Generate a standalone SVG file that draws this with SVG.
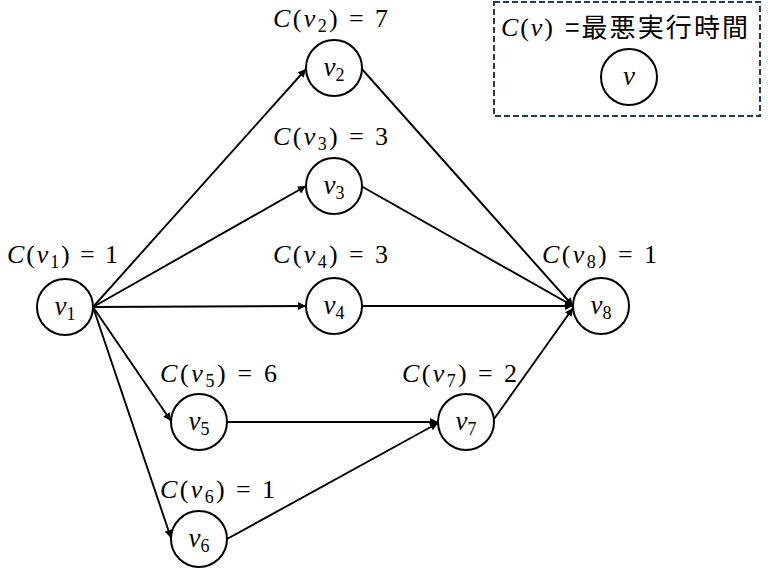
<svg xmlns="http://www.w3.org/2000/svg" width="768" height="568" viewBox="0 0 768 568">
<style>
.node circle{fill:#fff;stroke:#000;stroke-width:2}
text{font-family:"Liberation Serif","DejaVu Serif",serif;font-size:26px;fill:#000}
.i{font-style:italic}
.s{font-size:18px}
.nl{text-anchor:middle;font-size:27px}
.cjk{font-family:"Noto Sans CJK JP","Noto Sans CJK SC",sans-serif;font-size:26px}
#edges line{stroke:#000;stroke-width:1.9;marker-end:url(#ah)}
</style>
<defs>
<marker id="ah" viewBox="0 0 10 10" refX="10" refY="5" markerWidth="10" markerHeight="8" markerUnits="userSpaceOnUse" orient="auto">
<path d="M0,0 L10,5 L0,10 z" fill="#000"/>
</marker>
</defs>
<rect x="494" y="2" width="266" height="114" fill="none" stroke="#203d5a" stroke-width="2" stroke-dasharray="6 3"/>
<g id="legend">
<text x="501" y="36" textLength="52" lengthAdjust="spacing"><tspan class="i">C</tspan>(<tspan class="i">v</tspan>)</text>
<text class="cjk" x="565" y="37" textLength="183" lengthAdjust="spacing">=最悪実行時間</text>
<circle cx="629" cy="77" r="28" fill="#fff" stroke="#000" stroke-width="2"/>
<text class="nl i" x="629" y="85">v</text>
</g>
<g id="edges">
<line x1="93" y1="307" x2="306" y2="69"/>
<line x1="93" y1="307" x2="306" y2="186"/>
<line x1="93" y1="307" x2="306" y2="306"/>
<line x1="93" y1="307" x2="171" y2="421"/>
<line x1="93" y1="307" x2="171" y2="538"/>
<line x1="361" y1="68" x2="573" y2="306"/>
<line x1="361" y1="186" x2="573" y2="306"/>
<line x1="362" y1="306" x2="573" y2="306"/>
<line x1="227" y1="422" x2="438" y2="422"/>
<line x1="227" y1="539" x2="438" y2="423"/>
<line x1="494" y1="419" x2="573" y2="308"/>
</g>
<g id="v1" class="node"><circle cx="65" cy="307" r="28"/><text class="nl" x="65" y="315"><tspan class="i">v</tspan><tspan class="s" dy="5">1</tspan></text>
<text x="7" y="263" textLength="111" lengthAdjust="spacing"><tspan class="i">C</tspan>(<tspan class="i">v</tspan><tspan class="s" dy="5">1</tspan><tspan dy="-5">) = 1</tspan></text></g>
<g id="v2" class="node"><circle cx="334" cy="68" r="28"/><text class="nl" x="334" y="76"><tspan class="i">v</tspan><tspan class="s" dy="5">2</tspan></text>
<text x="273" y="27" textLength="115" lengthAdjust="spacing"><tspan class="i">C</tspan>(<tspan class="i">v</tspan><tspan class="s" dy="5">2</tspan><tspan dy="-5">) = 7</tspan></text></g>
<g id="v3" class="node"><circle cx="334" cy="186" r="28"/><text class="nl" x="334" y="194"><tspan class="i">v</tspan><tspan class="s" dy="5">3</tspan></text>
<text x="273" y="145" textLength="115" lengthAdjust="spacing"><tspan class="i">C</tspan>(<tspan class="i">v</tspan><tspan class="s" dy="5">3</tspan><tspan dy="-5">) = 3</tspan></text></g>
<g id="v4" class="node"><circle cx="334" cy="306" r="28"/><text class="nl" x="334" y="314"><tspan class="i">v</tspan><tspan class="s" dy="5">4</tspan></text>
<text x="273" y="263" textLength="115" lengthAdjust="spacing"><tspan class="i">C</tspan>(<tspan class="i">v</tspan><tspan class="s" dy="5">4</tspan><tspan dy="-5">) = 3</tspan></text></g>
<g id="v5" class="node"><circle cx="199" cy="422" r="28"/><text class="nl" x="199" y="430"><tspan class="i">v</tspan><tspan class="s" dy="5">5</tspan></text>
<text x="160" y="382" textLength="117" lengthAdjust="spacing"><tspan class="i">C</tspan>(<tspan class="i">v</tspan><tspan class="s" dy="5">5</tspan><tspan dy="-5">) = 6</tspan></text></g>
<g id="v6" class="node"><circle cx="199" cy="539" r="28"/><text class="nl" x="199" y="547"><tspan class="i">v</tspan><tspan class="s" dy="5">6</tspan></text>
<text x="160" y="498" textLength="115" lengthAdjust="spacing"><tspan class="i">C</tspan>(<tspan class="i">v</tspan><tspan class="s" dy="5">6</tspan><tspan dy="-5">) = 1</tspan></text></g>
<g id="v7" class="node"><circle cx="466" cy="422" r="28"/><text class="nl" x="466" y="430"><tspan class="i">v</tspan><tspan class="s" dy="5">7</tspan></text>
<text x="402" y="382" textLength="115" lengthAdjust="spacing"><tspan class="i">C</tspan>(<tspan class="i">v</tspan><tspan class="s" dy="5">7</tspan><tspan dy="-5">) = 2</tspan></text></g>
<g id="v8" class="node"><circle cx="601" cy="306" r="28"/><text class="nl" x="601" y="314"><tspan class="i">v</tspan><tspan class="s" dy="5">8</tspan></text>
<text x="542" y="263" textLength="115" lengthAdjust="spacing"><tspan class="i">C</tspan>(<tspan class="i">v</tspan><tspan class="s" dy="5">8</tspan><tspan dy="-5">) = 1</tspan></text></g>
</svg>
